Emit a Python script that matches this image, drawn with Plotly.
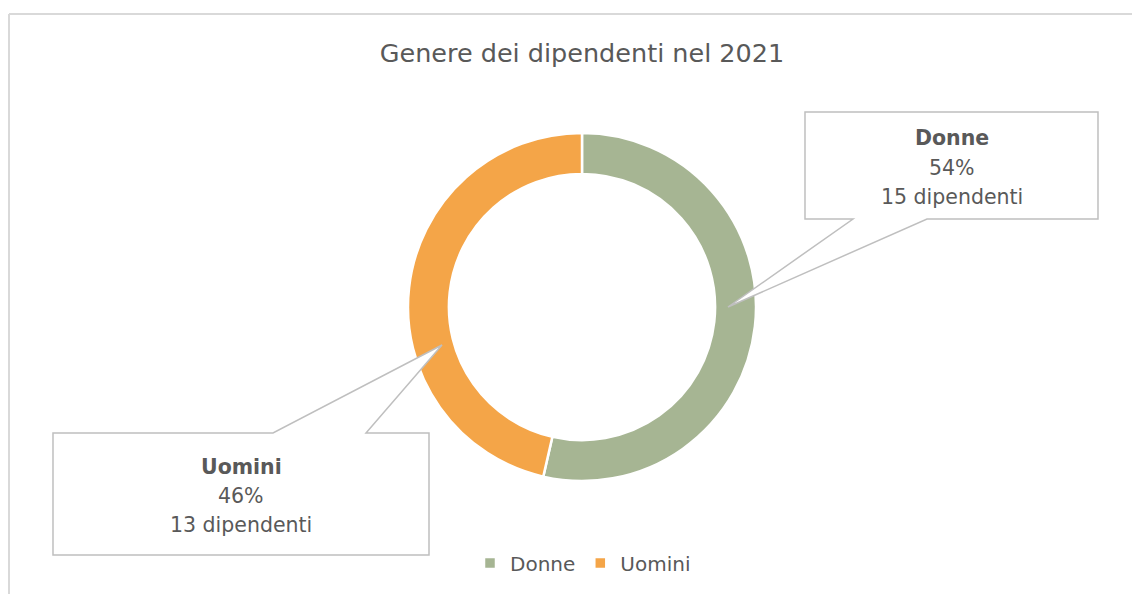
import plotly.graph_objects as go

# ---- data ----
categories = ["Donne", "Uomini"]
values = [15, 13]
colors = ["#A6B593", "#F4A548"]
title_text = "Genere dei dipendenti nel 2021"
unit_label = "dipendenti"

W, H = 1140, 594
OFF = 8  # page body margin
TXT = "#595959"
FONT = "DejaVu Sans"


def px(x):
    return (x - OFF) / W


def py(y):
    return 1 - (y - OFF) / H


# donut geometry (screen pixels)
cx, cy, r = 582, 307, 174

fig = go.Figure(
    go.Pie(
        labels=categories,
        values=values,
        hole=0.765,
        sort=False,
        direction="clockwise",
        rotation=0,
        textinfo="none",
        hoverinfo="label+value+percent",
        marker=dict(colors=colors, line=dict(color="white", width=2.5)),
        domain=dict(x=[px(cx - r), px(cx + r)], y=[py(cy + r), py(cy - r)]),
    )
)

total = sum(values)
pcts = [round(100 * v / total) for v in values]


def path_from(points):
    return "M " + " L ".join(f"{px(x):.5f},{py(y):.5f}" for x, y in points) + " Z"


shapes = []
# chart frame (top and left lines visible)
shapes.append(dict(type="line", xref="paper", yref="paper", x0=px(9), y0=py(14), x1=1.05, y1=py(14),
                   line=dict(color="#d9d9d9", width=2)))
shapes.append(dict(type="line", xref="paper", yref="paper", x0=px(9), y0=py(14), x1=px(9), y1=-0.05,
                   line=dict(color="#d9d9d9", width=2)))

# callouts: outline points (box with pointer) and text line positions
callouts = [
    dict(box=(805, 112, 1098, 219),
         pts=[(805, 112), (1098, 112), (1098, 219), (927, 219), (728, 307), (853, 219), (805, 219)],
         lines_y=(138, 168, 197)),
    dict(box=(53, 433, 429, 555),
         pts=[(53, 433), (273, 433), (442, 345), (366, 433), (429, 433), (429, 555), (53, 555)],
         lines_y=(467, 496, 525)),
]

annotations = []
for i, c in enumerate(callouts):
    shapes.append(dict(type="path", xref="paper", yref="paper", path=path_from(c["pts"]),
                       fillcolor="white", line=dict(color="#bfbfbf", width=1.5), layer="above"))
    bx = (c["box"][0] + c["box"][2]) / 2
    texts = [f"<b>{categories[i]}</b>", f"{pcts[i]}%", f"{values[i]} {unit_label}"]
    for t, ly in zip(texts, c["lines_y"]):
        annotations.append(dict(text=t, xref="paper", yref="paper", x=px(bx), y=py(ly),
                                xanchor="center", yanchor="middle", showarrow=False,
                                font=dict(family=FONT, size=20.5, color=TXT)))

fig.update_layout(
    width=W,
    height=H,
    margin=dict(l=0, r=0, t=0, b=0),
    paper_bgcolor="white",
    plot_bgcolor="white",
    title=dict(text=title_text, x=px(582), y=py(53), xanchor="center", yanchor="middle",
               font=dict(family=FONT, size=25.5, color=TXT)),
    showlegend=True,
    legend=dict(orientation="h", x=px(583), y=py(563), xanchor="center", yanchor="middle",
                font=dict(family=FONT, size=20, color=TXT), itemwidth=30,
                bgcolor="rgba(0,0,0,0)"),
    shapes=shapes,
    annotations=annotations,
)

fig.write_html("out.html")
